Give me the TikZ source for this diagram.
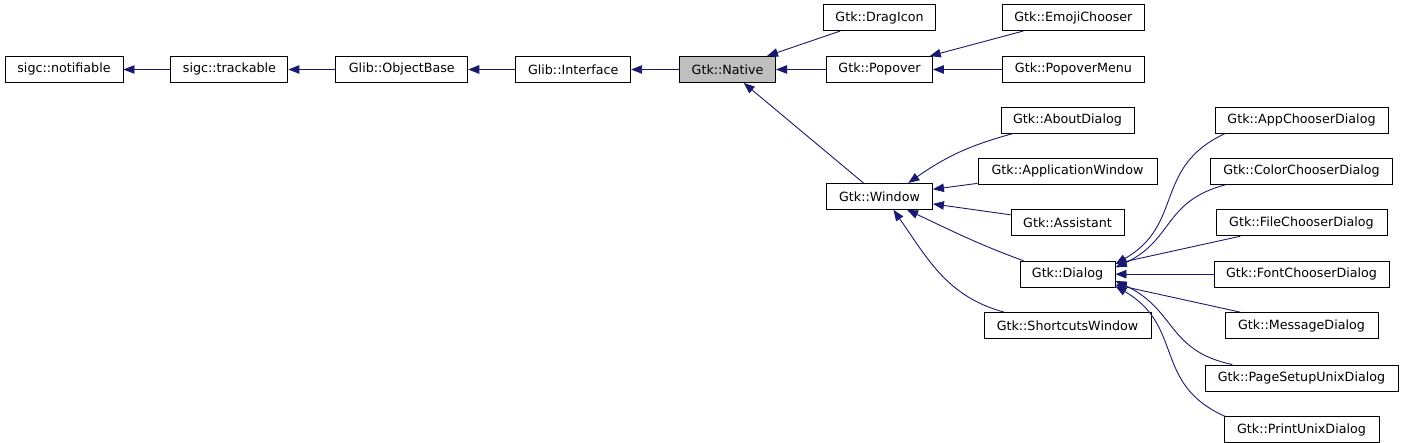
\documentclass[tikz,border=0pt]{standalone}
\usepackage{fontspec}
\setmainfont{DejaVu Sans}
\usetikzlibrary{positioning,arrows.meta}
\definecolor{edgeblue}{HTML}{191970}
\definecolor{nodegray}{HTML}{BFBFBF}

\begin{document}
\begin{tikzpicture}[x=1pt, y=-1pt,
  cls/.style={draw, rectangle, fill=white, line width=0.9pt, minimum height=26pt,
              inner sep=0pt, font=\fontsize{12.7}{15}\selectfont},
  inh/.style={draw=edgeblue, line width=0.9pt, {Triangle[length=11pt,width=8.5pt]}-}]
  \useasboundingbox (0,0) rectangle (1404,443);

  \node[cls, minimum width=118pt] (notif) at (64,69.5) {sigc::notifiable};
  \node[cls, minimum width=117pt, right=47pt of notif] (track) {sigc::trackable};
  \node[cls, minimum width=132pt, right=47pt of track] (objbase) {Glib::ObjectBase};
  \node[cls, minimum width=115pt, right=47pt of objbase] (iface) {Glib::Interface};
  \node[cls, minimum width=96pt, fill=nodegray, right=48pt of iface] (native) {Gtk::Native};

  \node[cls, minimum width=106pt, right=50pt of native] (popover) {Gtk::Popover};
  \node[cls, minimum width=112pt, above=25pt of popover] (dragicon) {Gtk::DragIcon};
  \node[cls, minimum width=142pt, right=69pt of popover] (popmenu) {Gtk::PopoverMenu};
  \node[cls, minimum width=142pt, above=25pt of popmenu] (emoji) {Gtk::EmojiChooser};
  \node[cls, minimum width=106pt, below=100pt of popover] (window) {Gtk::Window};

  \node[cls, minimum width=133pt] (about) at (1067.5,120) {Gtk::AboutDialog};
  \node[cls, minimum width=179pt, below=24.5pt of about] (appwin) {Gtk::ApplicationWindow};
  \node[cls, minimum width=113pt, below=24.5pt of appwin] (assist) {Gtk::Assistant};
  \node[cls, minimum width=95pt, below=24.5pt of assist] (dialog) {Gtk::Dialog};
  \node[cls, minimum width=167pt, below=24.5pt of dialog] (shortcuts) {Gtk::ShortcutsWindow};

  \node[cls, minimum width=173pt] (appch) at (1301.5,120) {Gtk::AppChooserDialog};
  \node[cls, minimum width=182pt, below=24.5pt of appch] (colorch) {Gtk::ColorChooserDialog};
  \node[cls, minimum width=171pt, below=24.5pt of colorch] (filech) {Gtk::FileChooserDialog};
  \node[cls, minimum width=175pt, below=24.5pt of filech] (fontch) {Gtk::FontChooserDialog};
  \node[cls, minimum width=153pt, below=24.5pt of fontch] (message) {Gtk::MessageDialog};
  \node[cls, minimum width=193pt, below=25.5pt of message] (pagesetup) {Gtk::PageSetupUnixDialog};
  \node[cls, minimum width=155pt, below=25pt of pagesetup] (printunix) {Gtk::PrintUnixDialog};

  % base classes
  \draw[inh] (notif) -- (track);
  \draw[inh] (track) -- (objbase);
  \draw[inh] (objbase) -- (iface);
  \draw[inh] (iface) -- (native);

  % Gtk::Native
  \draw[inh] (native) -- (dragicon);
  \draw[inh] (native) -- (popover);
  \draw[inh] (native) -- (window);
  \draw[inh] (popover) -- (emoji);
  \draw[inh] (popover) -- (popmenu);

  % Gtk::Window
  \draw[inh] (window.25) to[out=35,in=195] (about.194);
  \draw[inh] (window) -- (appwin);
  \draw[inh] (window) -- (assist);
  \draw[inh] (window.-26) to[out=-25,in=160] (dialog.163);
  \draw[inh] (window.-44) to[out=-55,in=165] (shortcuts.168);

  % Gtk::Dialog
  \draw[inh] (dialog.12) to[out=30,in=205,looseness=1.2] (appch.190);
  \draw[inh] (dialog.8) to[out=25,in=195,looseness=1.2] (colorch.190);
  \draw[inh] (dialog) -- (filech);
  \draw[inh] (dialog) -- (fontch);
  \draw[inh] (dialog) -- (message);
  \draw[inh] (dialog.-8) to[out=-25,in=168,looseness=1.2] (pagesetup.169);
  \draw[inh] (dialog.-14) to[out=-30,in=156,looseness=1.2] (printunix.170);
\end{tikzpicture}
\end{document}
